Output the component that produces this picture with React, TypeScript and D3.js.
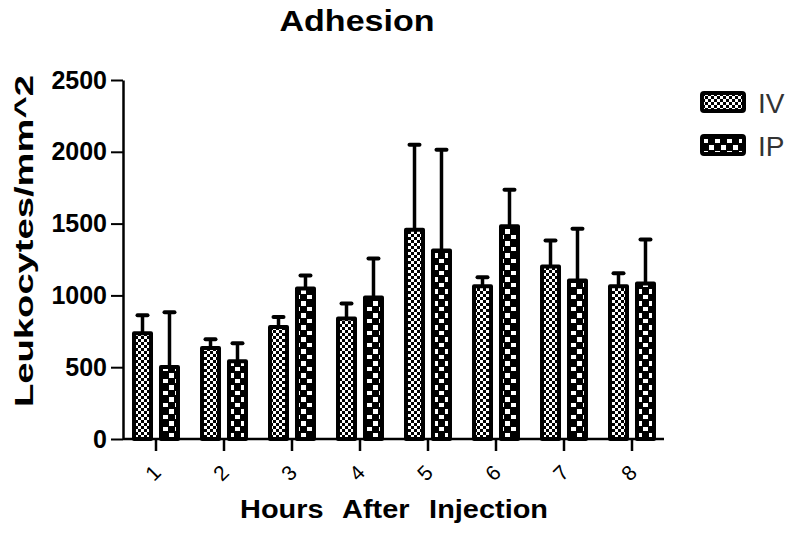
import React, { useRef, useEffect } from "react";
import * as d3 from "d3";

const hours = ["1", "2", "3", "4", "5", "6", "7", "8"];
const seriesNames = ["IV", "IP"];
const ivMeans = [736, 634, 780, 840, 1458, 1063, 1201, 1063];
const ivErrors = [125, 60, 70, 104, 591, 64, 181, 92];
const ipMeans = [502, 542, 1048, 986, 1312, 1481, 1104, 1083];
const ipErrors = [380, 125, 91, 271, 702, 255, 361, 306];
const yTicks = [0, 500, 1000, 1500, 2000, 2500];

const FONT = "Arial, 'Liberation Sans', sans-serif";

const App = () => {
  const ref = useRef<SVGSVGElement>(null);

  useEffect(() => {
    const svg = d3.select(ref.current);
    svg.selectAll("*").remove();

    // patterns for the two series
    const defs = svg.append("defs");
    const ivPat = defs
      .append("pattern")
      .attr("id", "pat-iv")
      .attr("patternUnits", "userSpaceOnUse")
      .attr("width", 6)
      .attr("height", 6);
    ivPat.append("rect").attr("width", 6).attr("height", 6).attr("fill", "#000");
    ivPat.append("rect").attr("width", 3).attr("height", 3).attr("fill", "#fff");
    ivPat.append("rect").attr("x", 3).attr("y", 3).attr("width", 3).attr("height", 3).attr("fill", "#fff");

    const ipPat = defs
      .append("pattern")
      .attr("id", "pat-ip")
      .attr("patternUnits", "userSpaceOnUse")
      .attr("width", 12)
      .attr("height", 12);
    ipPat.append("rect").attr("width", 12).attr("height", 12).attr("fill", "#000");
    ipPat.append("rect").attr("x", 1).attr("y", 1).attr("width", 5).attr("height", 5).attr("fill", "#fff");
    ipPat.append("rect").attr("x", 7).attr("y", 7).attr("width", 5).attr("height", 4).attr("fill", "#fff");

    const x = d3.scaleBand<string>().domain(hours).range([122, 666]).padding(0);
    const xSub = d3
      .scaleBand<string>()
      .domain(seriesNames)
      .range([0, x.bandwidth()])
      .paddingInner(0.37)
      .paddingOuter(0.445);
    const y = d3.scaleLinear().domain([0, 2500]).range([439, 80]);

    const series = [
      { name: "IV", means: ivMeans, errs: ivErrors, fill: "url(#pat-iv)" },
      { name: "IP", means: ipMeans, errs: ipErrors, fill: "url(#pat-ip)" },
    ];

    const g = svg.append("g");
    series.forEach((s) => {
      hours.forEach((h, i) => {
        const bx = (x(h) as number) + (xSub(s.name) as number);
        const bw = xSub.bandwidth();
        const cx = bx + bw / 2;
        // error bar
        g.append("line")
          .attr("x1", cx)
          .attr("x2", cx)
          .attr("y1", y(s.means[i]))
          .attr("y2", y(s.means[i] + s.errs[i]))
          .attr("stroke", "#000")
          .attr("stroke-width", 3.5);
        g.append("line")
          .attr("x1", cx - 5)
          .attr("x2", cx + 5)
          .attr("y1", y(s.means[i] + s.errs[i]))
          .attr("y2", y(s.means[i] + s.errs[i]))
          .attr("stroke", "#000")
          .attr("stroke-width", 4)
          .attr("stroke-linecap", "round");
        g.append("rect")
          .attr("x", bx)
          .attr("y", y(s.means[i]))
          .attr("width", bw)
          .attr("height", y(0) - y(s.means[i]))
          .attr("fill", s.fill)
          .attr("stroke", "#000")
          .attr("stroke-width", 4)
          .attr("stroke-linejoin", "round");
      });
    });

    // y axis
    const yAxis = d3
      .axisLeft(y)
      .tickValues(yTicks)
      .tickFormat(d3.format("d"))
      .tickSize(12)
      .tickSizeOuter(0)
      .tickPadding(4);
    const ya = svg.append("g").attr("transform", "translate(123,0)").call(yAxis);
    ya.select(".domain").attr("stroke-width", 2.5);
    ya.selectAll(".tick line").attr("stroke-width", 2);
    ya.selectAll(".tick text")
      .attr("font-family", FONT)
      .attr("font-size", 25)
      .attr("font-weight", "bold")
      .attr("fill", "#000");

    // x axis
    const xAxis = d3.axisBottom(x).tickSize(12).tickSizeOuter(0);
    const xa = svg.append("g").attr("transform", "translate(0,439)").call(xAxis);
    xa.select(".domain").attr("stroke-width", 2.5).attr("d", "M123,0H664");
    xa.selectAll(".tick line").attr("stroke-width", 2.5);
    xa.selectAll(".tick text")
      .attr("font-family", FONT)
      .attr("font-size", 21)
      .attr("fill", "#000")
      .attr("text-anchor", "middle")
      .attr("dy", "0.35em")
      .attr("y", 0)
      .attr("transform", "translate(-3,34) rotate(-45)");

    // titles
    svg.append("text")
      .attr("x", 357)
      .attr("y", 31)
      .attr("text-anchor", "middle")
      .attr("font-family", FONT)
      .attr("font-size", 29)
      .attr("font-weight", "bold")
      .attr("textLength", 155)
      .attr("lengthAdjust", "spacingAndGlyphs")
      .text("Adhesion");

    svg.append("text")
      .attr("transform", "translate(33,241) rotate(-90)")
      .attr("text-anchor", "middle")
      .attr("font-family", FONT)
      .attr("font-size", 25)
      .attr("font-weight", "bold")
      .attr("textLength", 332)
      .attr("lengthAdjust", "spacingAndGlyphs")
      .text("Leukocytes/mm^2");

    svg.append("text")
      .attr("x", 394)
      .attr("y", 518)
      .attr("text-anchor", "middle")
      .attr("font-family", FONT)
      .attr("font-size", 25)
      .attr("font-weight", "bold")
      .attr("word-spacing", 10)
      .attr("textLength", 308)
      .attr("lengthAdjust", "spacingAndGlyphs")
      .text("Hours After Injection");

    // legend
    const legend = svg.append("g");
    series.forEach((s, i) => {
      const ly = 93 + i * 43;
      legend.append("rect")
        .attr("x", 702)
        .attr("y", ly)
        .attr("width", 42)
        .attr("height", 18)
        .attr("rx", 2)
        .attr("fill", s.fill)
        .attr("stroke", "#000")
        .attr("stroke-width", 4);
      legend.append("text")
        .attr("x", 758)
        .attr("y", ly + 20)
        .attr("font-family", FONT)
        .attr("font-size", 28)
        .attr("fill", "#333")
        .text(s.name);
    });
  }, []);

  return (
    <div style={{ margin: "-8px" }}>
      <svg ref={ref} width={800} height={536} style={{ display: "block", background: "#fff" }} />
    </div>
  );
};

export default App;
